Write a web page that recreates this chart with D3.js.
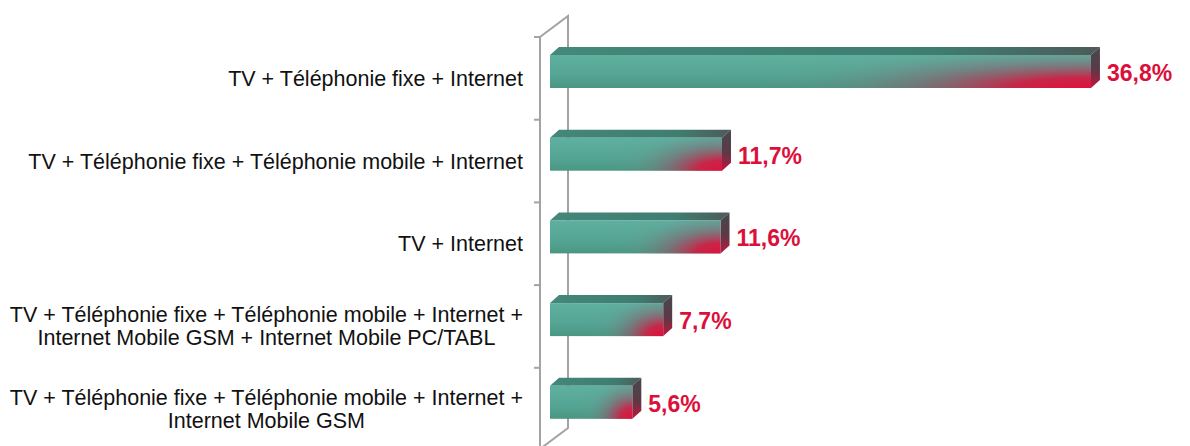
<!DOCTYPE html>
<html>
<head>
<meta charset="utf-8">
<script src="https://cdn.jsdelivr.net/npm/d3@7"></script>
<style>
  html, body { margin: 0; padding: 0; background: #fff; }
  svg { display: block; }
</style>
</head>
<body>
<svg id="chart"></svg>
<script>
var width = 1190,
    height = 446;

// Categories (line breaks as in the original labels)
var categories = [
    'TV + Téléphonie fixe + Internet',
    'TV + Téléphonie fixe + Téléphonie mobile + Internet',
    'TV + Internet',
    'TV + Téléphonie fixe + Téléphonie mobile + Internet +\nInternet Mobile GSM + Internet Mobile PC/TABL',
    'TV + Téléphonie fixe + Téléphonie mobile + Internet +\nInternet Mobile GSM'
];

// Share of households (%)
var values = [36.8, 11.7, 11.6, 7.7, 5.6];

var valueLabels = values.map(function (v) { return v.toFixed(1).replace('.', ',') + '%'; });

var depthX = 9, depthY = 8,      // bar 3d offset
    wallX = 28, wallY = 21;      // wall 3d offset

var svg = d3.select('#chart')
    .attr('width', width)
    .attr('height', height);

var y = d3.scaleBand()
    .domain(categories)
    .range([37, 450.5])
    .paddingInner(0);

var x = d3.scaleLinear()
    .domain([0, 40])
    .range([550, 1138]);

var defs = svg.append('defs');

// front face base
var gFront = defs.append('linearGradient').attr('id', 'front').attr('x1', 0).attr('y1', 0).attr('x2', 0).attr('y2', 1);
gFront.append('stop').attr('offset', '0%').attr('stop-color', '#5fb0a0');
gFront.append('stop').attr('offset', '60%').attr('stop-color', '#55a594');
gFront.append('stop').attr('offset', '100%').attr('stop-color', '#4a9683');

// red glow in the lower right corner
var gRed = defs.append('radialGradient').attr('id', 'red')
    .attr('cx', 1).attr('cy', 1).attr('r', 1)
    .attr('gradientTransform', 'translate(1,1) scale(0.72,1.6) translate(-1,-1)');
gRed.append('stop').attr('offset', '0%').attr('stop-color', '#e2103c').attr('stop-opacity', 1);
gRed.append('stop').attr('offset', '20%').attr('stop-color', '#d8163f').attr('stop-opacity', 0.88);
gRed.append('stop').attr('offset', '45%').attr('stop-color', '#92566a').attr('stop-opacity', 0.5);
gRed.append('stop').attr('offset', '72%').attr('stop-color', '#6f8f8a').attr('stop-opacity', 0.15);
gRed.append('stop').attr('offset', '100%').attr('stop-color', '#5aa99a').attr('stop-opacity', 0);

// top face
var gTop = defs.append('linearGradient').attr('id', 'top').attr('x1', 0).attr('y1', 0).attr('x2', 1).attr('y2', 0);
gTop.append('stop').attr('offset', '0%').attr('stop-color', '#43887a');
gTop.append('stop').attr('offset', '70%').attr('stop-color', '#3f7d71');
gTop.append('stop').attr('offset', '100%').attr('stop-color', '#4d5b5a');

// end face
var gEnd = defs.append('linearGradient').attr('id', 'end').attr('x1', 0).attr('y1', 0).attr('x2', 0).attr('y2', 1);
gEnd.append('stop').attr('offset', '0%').attr('stop-color', '#48484e');
gEnd.append('stop').attr('offset', '55%').attr('stop-color', '#5a3a46');
gEnd.append('stop').attr('offset', '100%').attr('stop-color', '#c4123e');

// Wall (axis line with depth)
var wallTop = y.range()[0],
    wallBottom = 448,
    x0 = 540;

var wall = svg.append('g')
    .attr('fill', 'none')
    .attr('stroke', '#a3a3a3')
    .attr('stroke-width', 2);

wall.append('path')
    .attr('d', 'M' + x0 + ',' + wallBottom + 'V' + wallTop +
        'L' + (x0 + wallX) + ',' + (wallTop - wallY) +
        'V' + (wallBottom - wallY + 1) +
        'L' + x0 + ',' + (wallBottom + 1));

// Ticks at the band boundaries
var tickPos = categories.map(function (c) { return y(c); }).concat([y.range()[1]]);
wall.selectAll('line.tick')
    .data(tickPos)
    .enter().append('line')
    .attr('class', 'tick')
    .attr('x1', x0 - 6).attr('x2', x0)
    .attr('y1', function (d) { return d; })
    .attr('y2', function (d) { return d; });

// Bars
var bars = svg.selectAll('g.bar')
    .data(values)
    .enter().append('g')
    .attr('class', 'bar');

function barTop(i) { return y(categories[i]) + 18; }
var barH = 33;

bars.append('path')
    .attr('fill', 'url(#top)')
    .attr('d', function (d, i) {
        var t = barTop(i), a = x(0), b = x(d);
        return 'M' + a + ',' + t + 'L' + (a + depthX) + ',' + (t - depthY) +
            'L' + (b + depthX) + ',' + (t - depthY) + 'L' + b + ',' + t + 'Z';
    });

bars.append('path')
    .attr('fill', 'url(#end)')
    .attr('d', function (d, i) {
        var t = barTop(i), b = x(d);
        return 'M' + b + ',' + t + 'L' + (b + depthX) + ',' + (t - depthY) +
            'L' + (b + depthX) + ',' + (t + barH - depthY) + 'L' + b + ',' + (t + barH) + 'Z';
    });

bars.append('rect')
    .attr('x', x(0))
    .attr('y', function (d, i) { return barTop(i); })
    .attr('width', function (d) { return x(d) - x(0); })
    .attr('height', barH)
    .attr('fill', 'url(#front)');

bars.append('rect')
    .attr('x', x(0))
    .attr('y', function (d, i) { return barTop(i); })
    .attr('width', function (d) { return x(d) - x(0); })
    .attr('height', barH)
    .attr('fill', 'url(#red)');

// Value labels
svg.selectAll('text.value')
    .data(values)
    .enter().append('text')
    .attr('class', 'value')
    .attr('x', function (d) { return x(d) + 16; })
    .attr('y', function (d, i) { return barTop(i) + 26; })
    .attr('fill', '#dc0f3b')
    .style('font-family', 'Arial, "Liberation Sans", sans-serif')
    .style('font-size', '23px')
    .style('font-weight', 'bold')
    .text(function (d, i) { return valueLabels[i]; });

// Category labels, centred lines, right edge at 523
var labelRight = 523, lineH = 23;

var labels = svg.selectAll('g.label')
    .data(categories)
    .enter().append('g')
    .attr('class', 'label')
    .style('font-family', 'Arial, "Liberation Sans", sans-serif')
    .style('font-size', '21.5px')
    .attr('fill', '#111');

labels.each(function (c) {
    var g = d3.select(this),
        lines = c.split('\n'),
        mid = y(c) + y.bandwidth() / 2,
        first = mid + 7.5 - (lines.length - 1) * lineH / 2;

    var texts = g.selectAll('text')
        .data(lines)
        .enter().append('text')
        .attr('y', function (d, i) { return first + i * lineH; })
        .text(function (d) { return d; });

    var maxW = 0;
    texts.each(function () { maxW = Math.max(maxW, this.getComputedTextLength()); });
    texts.attr('x', labelRight - maxW / 2).attr('text-anchor', 'middle');
});
</script>
</body>
</html>
